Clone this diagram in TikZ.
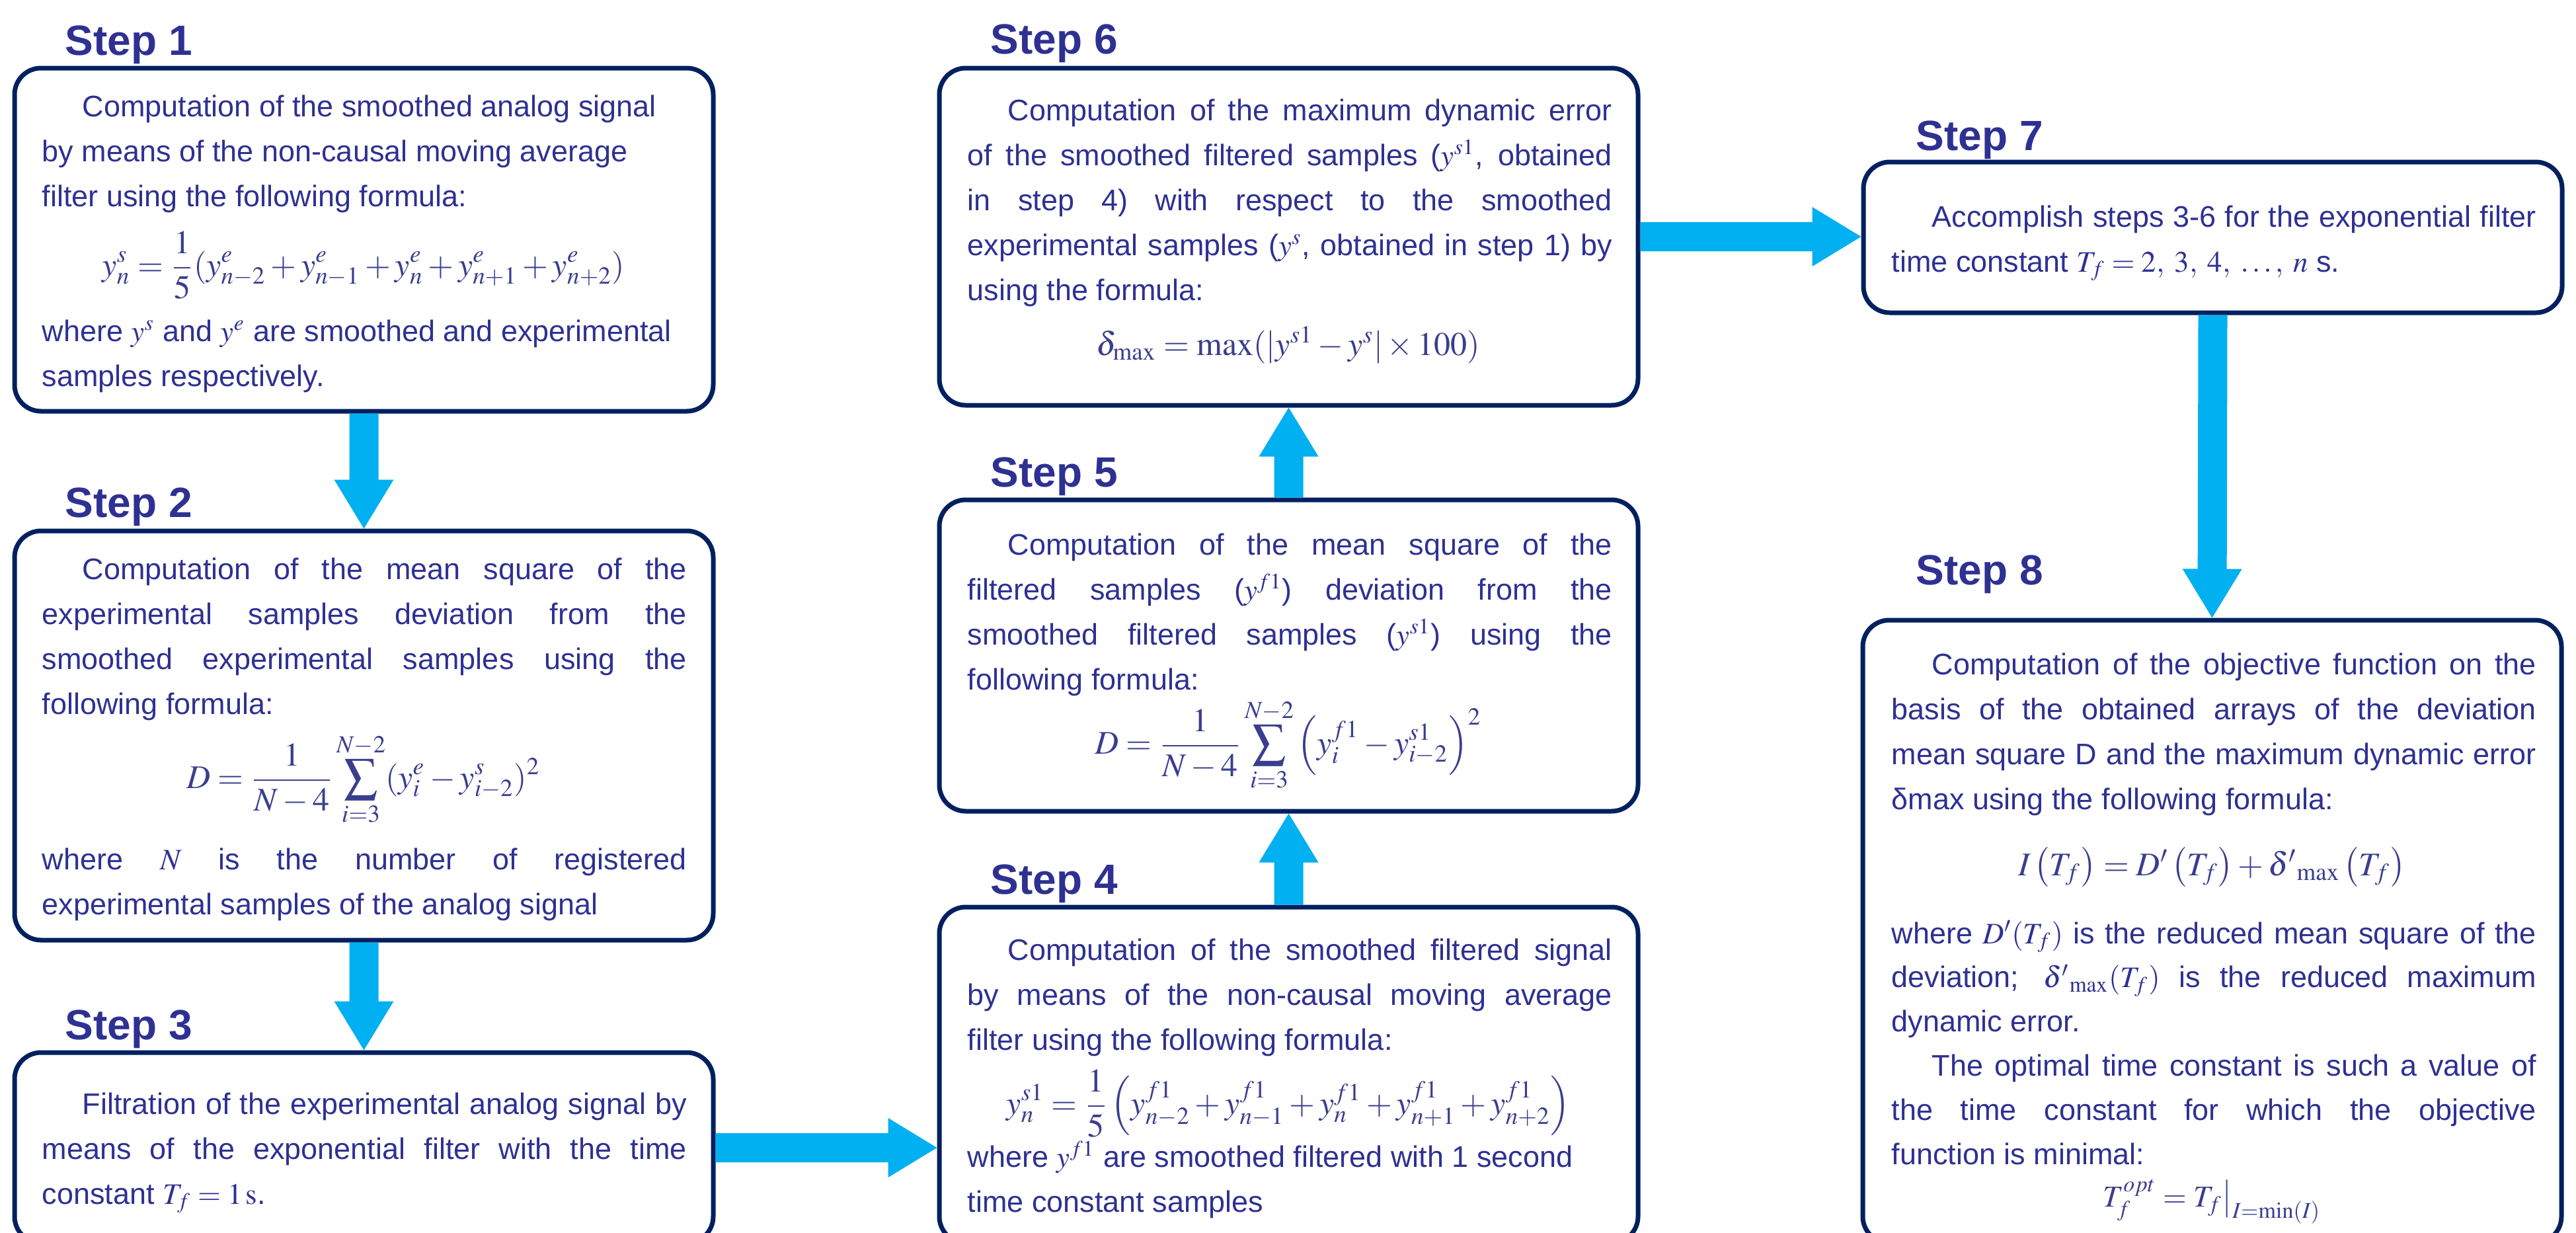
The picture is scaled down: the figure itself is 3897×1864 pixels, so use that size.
\documentclass[tikz,border=0pt]{standalone}
\usepackage{mathptmx}
\usepackage[no-math]{fontspec}
\usetikzlibrary{calc}
\newfontfamily\bodyfont{Liberation Sans}
\definecolor{txt}{RGB}{46,49,146}
\definecolor{frame}{RGB}{0,32,96}
\definecolor{arrowc}{RGB}{0,176,240}
\definecolor{mathc}{RGB}{58,62,142}
\hbadness=10000
\hyphenpenalty=10000
\newcommand\bodysize{\fontsize{11.25pt}{17pt}\selectfont}
\newcommand\ind{\hspace*{15.25pt}}
\newcommand\fatarrow[2]{%
  \path (#1) coordinate (faA) (#2) coordinate (faB);
  \path ($(faB)!18.5pt!(faA)$) coordinate (faH);
  \fill[arrowc] ($(faA)!5.5pt!90:(faB)$) -- ($(faH)!5.5pt!90:(faB)$) -- ($(faH)!11.25pt!90:(faB)$) -- (faB) -- ($(faH)!11.25pt!-90:(faB)$) -- ($(faH)!5.5pt!-90:(faB)$) -- ($(faA)!5.5pt!-90:(faB)$) -- cycle;}
\tikzset{
  stepbox/.style={draw=frame, line width=1.75pt, rounded corners=10pt, minimum width=264.25pt, inner sep=0pt, outer sep=0.875pt},
  body/.style={inner sep=0pt, text width=243.75pt, align=justify, font=\bodyfont\bodysize, text=txt, anchor=base west},
  formula/.style={inner sep=0pt, anchor=base, text=mathc, font=\fontsize{12.5pt}{15pt}\selectfont},
  steplabel/.style={inner sep=0pt, anchor=base west, text=txt, font=\bodyfont\bfseries\fontsize{16pt}{19pt}\selectfont}
}
\begin{document}
\begin{tikzpicture}[x=0.25pt,y=-0.25pt]
\clip (0,0) rectangle (3897,1864);
% boxes
\node[stepbox, minimum height=129.75pt] (b1) at (550.5,362.5) {};
\node[stepbox, minimum height=154.75pt] (b2) at (550.5,1112.5) {};
\node[stepbox, minimum height=72pt] (b3) at (550.5,1736) {};
\node[stepbox, minimum height=127pt] (b4) at (1949.5,1626) {};
\node[stepbox, minimum height=117.75pt] (b5) at (1949.5,991.5) {};
\node[stepbox, minimum height=127.5pt] (b6) at (1949.5,358) {};
\node[stepbox, minimum height=57pt] (b7) at (3347.5,359) {};
\node[stepbox, minimum height=235.5pt] (b8) at (3346.5,1409) {};
% labels
\node[steplabel] (l1) at (98,83) {Step 1};
\node[steplabel] (l2) at (98,782) {Step 2};
\node[steplabel] (l3) at (98,1572) {Step 3};
\node[steplabel] (l4) at (1498,1352) {Step 4};
\node[steplabel] (l5) at (1498,736) {Step 5};
\node[steplabel] (l6) at (1498,81) {Step 6};
\node[steplabel] (l7) at (2898,227) {Step 7};
\node[steplabel] (l8) at (2898,884) {Step 8};
% arrows
\fatarrow{b1.south}{b2.north}
\fatarrow{b2.south}{b3.north}
\fatarrow{b3.east}{b4.west |- b3.east}
\fatarrow{b4.north}{b5.south}
\fatarrow{b5.north}{b6.south}
\fatarrow{b6.east}{b7.west |- b6.east}
\fatarrow{b7.south}{b8.north}
% step 1
\node[body] (t1a) at (63,176) {\ind Computation of the smoothed analog signal\newline by means of the non-causal moving average\newline filter using the following formula:};
\node[formula] (f1) at (550,417) {$\displaystyle y_n^s=\frac{1}{5}(y_{n-2}^e+y_{n-1}^e+y_n^e+y_{n+1}^e+y_{n+2}^e)$};
\node[body] (t1b) at (63,516) {where $y^s$ and $y^e$ are smoothed and experimental\newline samples respectively.};
% step 2
\node[body] (t2a) at (63,876) {\ind Computation of the mean square of the\linebreak experimental samples deviation from the\linebreak smoothed experimental samples using the\linebreak following formula:};
\node[formula] (f2) at (550,1192) {$\displaystyle D=\frac{1}{N-4}\sum_{i=3}^{N-2}(y_i^e-y_{i-2}^s)^2$};
\node[body] (t2b) at (63,1315) {where $N$ is the number of registered\linebreak experimental samples of the analog signal};
% step 3
\node[body] (t3) at (63,1685) {\ind Filtration of the experimental analog signal by\linebreak means of the exponential filter with the time\linebreak constant $T_f=1\,\mathrm{s}$.};
% step 4
\node[body] (t4a) at (1463,1452) {\ind Computation of the smoothed filtered signal\linebreak by means of the non-causal moving average\linebreak filter using the following formula:};
\node[formula] (f4) at (1949,1685) {$\displaystyle y_n^{s1}=\frac{1}{5}\left(y_{n-2}^{f1}+y_{n-1}^{f1}+y_n^{f1}+y_{n+1}^{f1}+y_{n+2}^{f1}\right)$};
\node[body] (t4b) at (1463,1765) {where $y^{f1}$ are smoothed filtered with 1 second\newline time constant samples};
% step 5
\node[body] (t5a) at (1463,839) {\ind Computation of the mean square of the\linebreak filtered samples ($y^{f1}$) deviation from the\linebreak smoothed filtered samples ($y^{s1}$) using the\linebreak following formula:};
\node[formula] (f5) at (1949,1140) {$\displaystyle D=\frac{1}{N-4}\sum_{i=3}^{N-2}\left(y_i^{f1}-y_{i-2}^{s1}\right)^2$};
% step 6
\node[body] (t6a) at (1463,182) {\ind Computation of the maximum dynamic error\linebreak of the smoothed filtered samples ($y^{s1}$, obtained\linebreak in step 4) with respect to the smoothed\linebreak experimental samples ($y^s$, obtained in step 1) by\linebreak using the formula:};
\node[formula] (f6) at (1949,537) {$\delta_{\max}=\max(|y^{s1}-y^{s}|\times 100)$};
% step 7
\node[body] (t7) at (2861,343) {\ind Accomplish steps 3-6 for the exponential filter\linebreak time constant $T_f=2,\;3,\;4,\;\ldots,\;n$ s.};
% step 8
\node[body] (t8a) at (2861,1020) {\ind Computation of the objective function on the\linebreak basis of the obtained arrays of the deviation\linebreak mean square D and the maximum dynamic error\linebreak δmax using the following formula:};
\node[formula] (f8a) at (3346,1324) {$I\left(T_f\right)=D'\left(T_f\right)+{\delta'}_{\max}\left(T_f\right)$};
\node[body, font=\bodyfont\fontsize{11.25pt}{16.7pt}\selectfont] (t8b) at (2861,1427) {where $D'(T_f)$ is the reduced mean square of the\linebreak deviation; ${\delta'}_{\max}(T_f)$ is the reduced maximum\linebreak dynamic error.\par\ind The optimal time constant is such a value of\linebreak the time constant for which the objective\linebreak function is minimal:};
\node[formula, font=\fontsize{11.5pt}{14pt}\selectfont] (f8b) at (3346,1825) {$T_f^{opt}=T_f\big|_{I=\min(I)}$};
\end{tikzpicture}
\end{document}
